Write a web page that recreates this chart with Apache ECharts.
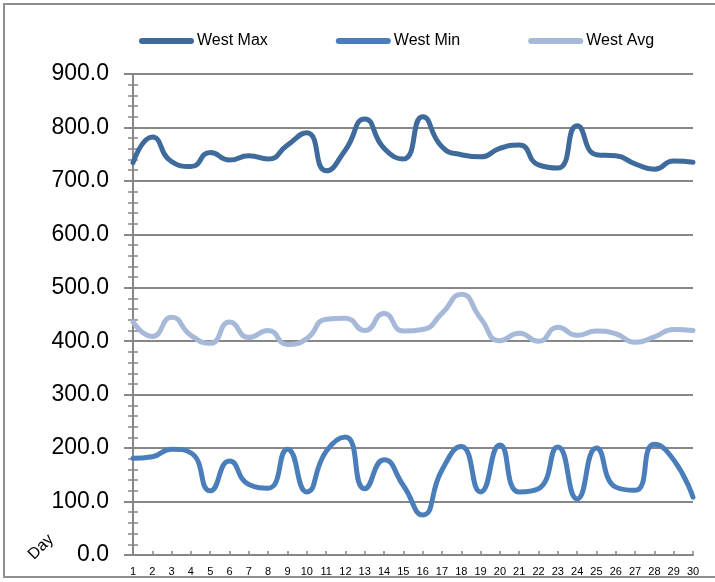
<!DOCTYPE html>
<html><head><meta charset="utf-8">
<script src="https://cdn.jsdelivr.net/npm/echarts@6/dist/echarts.min.js"></script>
<style>html,body{margin:0;padding:0;background:#fff}#c{width:715px;height:582px}</style>
</head><body><div id="c"></div>
<script>
const days = ['1','2','3','4','5','6','7','8','9','10','11','12','13','14','15','16','17','18','19','20','21','22','23','24','25','26','27','28','29','30'];
const westMax = [734,782,736,727,753,739,747,741,767,790,719,758,816,761,741,820,764,749,745,761,767,730,724,803,749,747,732,722,737,735];
const westMin = [181,184,198,191,120,176,132,125,198,118,194,221,124,178,130,75,159,203,118,206,118,124,202,105,200,127,121,207,178,108];
const westAvg = [436,409,445,411,396,436,407,420,394,405,441,443,420,452,419,422,452,488,443,401,415,400,426,411,419,414,398,408,422,420];
const seriesNames = ['West Max','West Min','West Avg'];
const seriesColors = ['#3f6a9c','#4a7ebb','#a6b9d8'];
const yMin = 0, yMax = 900, yStep = 100;
const xName = 'Day';

const grey = '#878787';
const chart = echarts.init(document.getElementById('c'), null, {renderer:'canvas'});
const pill = 'path://M3,0 L52,0 A3,3 0 0 1 52,6 L3,6 A3,3 0 0 1 3,0 Z';
const mk = (name, data, color) => ({
  name, type:'line', data, smooth:0.55, symbol:'none', yAxisIndex:0, xAxisIndex:0,
  lineStyle:{width:5, color, cap:'round', join:'round'}, itemStyle:{color}
});
chart.setOption({
  animation:false,
  backgroundColor:'#fff',
  textStyle:{fontFamily:'Liberation Sans'},
  legend:{
    left:134, top:28, itemWidth:55, itemHeight:6, itemGap:68,
    icon:pill,
    data:seriesNames,
    textStyle:{fontSize:16, color:'#000', fontFamily:'Liberation Sans', padding:[0,0,0,-2]}
  },
  grid:{left:133, right:22, top:74, bottom:27, containLabel:false},
  xAxis:[{
    type:'category', data:days, boundaryGap:false,
    axisLine:{lineStyle:{color:grey, width:2}},
    axisTick:{show:true, inside:true, length:4, interval:0, lineStyle:{color:grey, width:1.5}},
    axisLabel:{interval:0, fontSize:11, color:'#000', margin:11},
    splitLine:{show:false}
  }],
  yAxis:[{
    type:'value', min:yMin, max:yMax, interval:yStep,
    axisLine:{show:true, lineStyle:{color:grey, width:2}},
    axisTick:{show:true, length:9, lineStyle:{color:grey, width:2}},
    minorTick:{show:true, splitNumber:5, length:5, lineStyle:{color:grey, width:1.5}},
    axisLabel:{fontSize:23, color:'#000', margin:24, formatter:v=>v.toFixed(1)},
    splitLine:{show:true, lineStyle:{color:grey, width:2}}
  },{
    type:'value', min:yMin, max:yMax, interval:yStep, position:'left',
    axisLine:{show:false},
    axisTick:{show:true, inside:true, length:5, lineStyle:{color:grey, width:1.5}},
    minorTick:{show:true, splitNumber:5, length:5, lineStyle:{color:grey, width:1.5}},
    axisLabel:{show:false},
    splitLine:{show:false}
  }],
  series:[
    mk(seriesNames[2], westAvg, seriesColors[2]),
    mk(seriesNames[1], westMin, seriesColors[1]),
    mk(seriesNames[0], westMax, seriesColors[0])
  ],
  graphic:[
    {type:'polyline', shape:{points:[[715,4],[4,4],[4,577],[715,577]]}, style:{fill:null, stroke:'#8f8f8f', lineWidth:2}, silent:true},
    {type:'text', x:41, y:547, rotation:Math.PI/4, style:{text:xName, fontSize:16, fill:'#000', fontFamily:'Liberation Sans', align:'center', verticalAlign:'middle'}}
  ]
});
</script></body></html>
